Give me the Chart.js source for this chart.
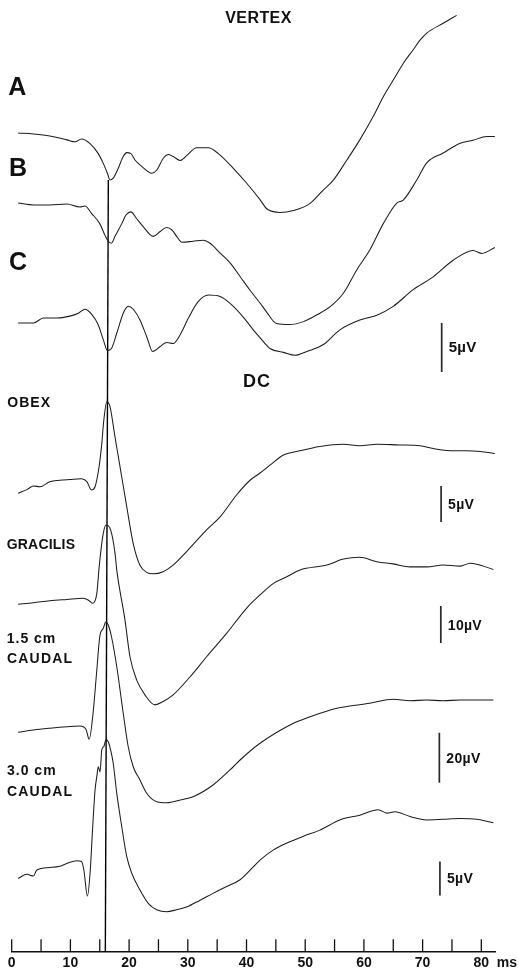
<!DOCTYPE html>
<html>
<head>
<meta charset="utf-8">
<script src="https://cdn.jsdelivr.net/npm/chart.js@4.4.1/dist/chart.umd.min.js"></script>
<style>
  html, body { margin: 0; padding: 0; background: #fff; }
  #wrap { position: relative; width: 519px; height: 975px; }
</style>
</head>
<body>
<div id="wrap"><canvas id="c" width="519" height="975"></canvas></div>
<script>
// Evoked potentials: each trace is [latency ms, amplitude µV] relative to its pre-stimulus level.
const vertexA = [[1.1,0.1],[3.7,0],[6.5,-0.2],[9.4,-0.6],[10.8,-0.8],[11.9,-0.5],[13.3,-0.95],[14.75,-2.0],[15.6,-3.0],[16.3,-4.0],[16.75,-4.7],[17.3,-4.5],[18.15,-3.5],[19.0,-2.3],[19.6,-1.9],[20.3,-2.0],[21.0,-2.65],[22.15,-3.3],[23.85,-4.0],[24.7,-3.7],[25.8,-2.5],[26.7,-2.1],[27.5,-2.3],[28.7,-2.7],[29.8,-2.2],[31.5,-1.4],[33.5,-1.4],[35.2,-2.0],[37.75,-3.5],[40.0,-5.0],[42.3,-6.7],[43.4,-7.6],[45.7,-8.0],[48.0,-7.8],[50.8,-7.1],[53.1,-5.7],[54.8,-4.7],[57.1,-2.65],[59.3,-0.6],[61.6,1.8],[63.3,3.8],[65.0,5.5],[66.7,7.2],[68.4,8.6],[69.6,9.6],[70.7,10.3],[73.5,11.3],[75.8,12.1]];

const vertexB = [[1.1,0.2],[3.7,0],[6.5,0],[9.4,0.1],[11.6,-0.2],[12.5,-0.1],[13.6,-0.85],[15.0,-1.9],[15.9,-3.1],[16.45,-3.7],[17.0,-3.9],[17.6,-3.2],[18.75,-1.9],[19.5,-1.0],[20.3,-0.7],[21.3,-1.4],[22.4,-2.2],[24.1,-3.2],[25.3,-2.7],[26.4,-2.3],[27.3,-2.55],[28.1,-3.2],[29.0,-3.8],[30.9,-3.7],[32.6,-3.6],[33.8,-3.9],[35.5,-4.9],[37.2,-5.9],[38.9,-7.3],[40.6,-8.7],[42.3,-10.0],[43.4,-10.9],[45.1,-12.1],[47.4,-12.2],[49.7,-11.9],[52.0,-11.2],[54.2,-10.4],[56.5,-9.0],[58.8,-6.6],[61.0,-4.6],[63.3,-1.9],[65.6,0.2],[66.7,0.5],[69.0,2.55],[70.7,4.3],[73.5,5.3],[76.4,6.3],[78.6,6.6],[80.9,7.0],[82.3,7.0]];

const vertexC = [[1.1,-0.1],[3.7,-0.1],[5.4,0.4],[7.7,0.4],[9.9,0.6],[11.35,0.9],[12.5,1.3],[13.6,0.8],[14.75,-0.3],[15.6,-1.8],[16.3,-2.9],[17.0,-2.7],[17.9,-1.15],[19.0,0.9],[19.85,1.6],[20.7,1.3],[21.85,0.2],[23.0,-1.5],[24.0,-3.0],[25.3,-2.5],[26.4,-2.1],[27.5,-2.2],[28.7,-1.3],[30.1,0.4],[31.8,2.1],[33.5,2.75],[35.5,2.6],[37.2,1.9],[39.45,0.5],[41.15,-0.8],[42.3,-1.6],[44.0,-2.7],[46.3,-3.1],[48.3,-3.4],[50.3,-3.0],[53.1,-2.3],[55.9,-0.8],[59.3,0.2],[62.2,0.7],[65.0,1.6],[68.4,3.3],[71.8,4.6],[75.2,6.3],[78.6,7.3],[80.1,7.0],[82.3,7.6]];

const obex = [[1.1,-1.0],[2.6,-0.5],[3.7,0],[4.8,-0.1],[6.5,0.6],[8.2,0.8],[9.9,0.9],[11.9,1.0],[12.8,0.6],[13.6,-0.55],[14.2,-0.1],[14.85,2.5],[15.3,5.5],[15.7,9.2],[16.2,11.7],[16.75,11.0],[17.6,6.8],[18.45,2.7],[19.6,-2.9],[20.7,-8.0],[21.85,-11.0],[23.0,-12.0],[24.1,-12.2],[25.8,-11.9],[27.5,-11.0],[29.8,-9.1],[33.2,-6.1],[35.5,-4.3],[38.3,-1.25],[40.6,0.8],[42.3,1.8],[44.0,2.9],[46.3,4.3],[48.55,4.8],[49.7,5.0],[52.5,5.5],[56.5,5.8],[59.3,5.6],[62.2,5.8],[66.1,5.7],[69.55,5.6],[71.8,5.2],[74.7,4.9],[77.5,4.9],[79.8,4.8],[82.3,4.5]];

const gracilis = [[1.1,-0.6],[3.7,-0.2],[6.5,0.35],[9.4,0.7],[12.2,1.0],[13.2,0.35],[13.8,-0.35],[14.5,2.35],[14.9,9.5],[15.5,17.6],[16.05,20.8],[16.85,19.5],[17.6,13.2],[17.9,8.6],[19.3,-4.9],[20.15,-14.8],[21.3,-21.1],[22.7,-25.1],[24.4,-27.8],[25.8,-26.9],[27.5,-25.1],[30.4,-20.2],[33.2,-14.8],[36.6,-8.5],[40.0,-1.7],[42.3,1.9],[44.6,5.05],[46.85,6.8],[49.1,8.65],[53.7,10.0],[56.5,11.6],[59.3,12.1],[62.2,10.9],[65.0,10.3],[67.85,9.5],[70.7,9.5],[73.5,10.0],[76.4,9.7],[78.1,10.5],[82.05,8.8]];

const caudal15 = [[1.1,-0.9],[3.7,0],[6.5,0.7],[9.4,1.3],[11.6,1.6],[12.65,0.3],[13.2,-3.7],[13.8,5.3],[14.5,24.0],[15.0,37.3],[15.6,40.7],[16.05,43.3],[16.45,42.0],[17.0,37.3],[17.9,25.3],[19.0,6.7],[19.85,-6.7],[20.7,-14.7],[21.85,-20.0],[23.0,-25.3],[24.7,-28.7],[26.4,-29.1],[28.7,-28.0],[30.9,-26.7],[34.3,-22.0],[37.75,-14.7],[38.9,-12.0],[42.3,-5.3],[48.0,2.7],[50.8,5.3],[55.4,8.7],[61.0,10.7],[65.0,12.3],[67.85,11.7],[70.7,12.0],[73.5,11.7],[76.4,12.0],[82.05,12.0]];

const caudal30 = [[1.1,-0.5],[2.6,0.1],[3.7,-0.15],[4.25,0.7],[6.5,1.1],[8.2,1.3],[9.4,1.7],[11.1,2.1],[11.9,2.0],[12.3,0.7],[12.9,-3.1],[13.35,0.25],[13.8,7.1],[14.2,12.5],[14.5,14.5],[14.75,15.9],[15.05,15.2],[15.35,18.4],[15.7,18.9],[16.05,19.9],[16.45,19.6],[16.85,18.4],[17.3,16.4],[17.9,12.0],[18.75,7.1],[19.6,2.7],[20.45,0.25],[21.85,-2.2],[23.3,-4.2],[24.7,-5.1],[26.4,-5.4],[28.1,-5.1],[29.8,-4.7],[32.1,-3.7],[34.3,-2.7],[36.6,-1.7],[38.9,-0.7],[41.15,1.2],[42.3,2.2],[44.6,3.7],[46.85,4.7],[49.7,5.7],[52.5,6.6],[55.9,8.1],[59.3,8.8],[62.45,9.6],[63.9,9.1],[65.3,9.3],[67.85,8.6],[70.7,8.1],[73.5,8.2],[76.4,8.3],[79.2,8.2],[82.05,7.7]];

// Calibration bars (µV) and their captions
const calibrationUV = [5, 5, 10, 20, 5];
const calibrationText = ['5µV', '5µV', '10µV', '20µV', '5µV'];

// Time axis: minor marks every 5 ms, numbered every 10 ms
const timeMinorStep = 5;
const timeLabels = [0, 10, 20, 30, 40, 50, 60, 70, 80];

// Peak latency marker (ms) where it leaves trace A and where it meets the time axis
const markerLatency = [16.46, 15.95];
const markerTopUV = -4.7;

// ---- layout: each trace gets its own hidden amplitude axis ----
const FONT = '"Liberation Sans", Arial, Helvetica, sans-serif';
const PLOT_H = 951.8;            // chart-area height; the time axis runs along its bottom
const ROWS = {                   // row: pixel row of the 0 µV level, gain: px per µV
  A:    { row: 134, gain: 9.8 },
  B:    { row: 205, gain: 9.8 },
  C:    { row: 322, gain: 9.8 },
  OBEX: { row: 486, gain: 7.2 },
  GRAC: { row: 602, gain: 3.7 },
  C15:  { row: 730, gain: 2.5 },
  C30:  { row: 875, gain: 6.8 }
};
function amplitudeAxis(key) {
  const { row, gain } = ROWS[key];
  return { type: 'linear', display: false, min: (row - PLOT_H) / gain, max: row / gain };
}

const traces = [
  { key: 'A', data: vertexA },
  { key: 'B', data: vertexB },
  { key: 'C', data: vertexC },
  { key: 'OBEX', data: obex },
  { key: 'GRAC', data: gracilis },
  { key: 'C15', data: caudal15 },
  { key: 'C30', data: caudal30 }
];

// calibration bar placement: which row, latency column, lower end (µV on that row)
const calibrationPlacement = [
  { axis: 'C',    at: 73.25, from: -5.1 },
  { axis: 'OBEX', at: 73.15, from: -5.0 },
  { axis: 'GRAC', at: 73.1,  from: -11.1 },
  { axis: 'C15',  at: 72.85, from: -21.1 },
  { axis: 'C30',  at: 72.95, from: -3.0 }
];

const scales = {
  x: {
    type: 'linear', position: 'bottom', min: 0, max: 82.45,
    border: { display: true, color: '#111', width: 1.4 },
    grid: { display: true, drawOnChartArea: false, drawTicks: false },
    ticks: {
      stepSize: timeMinorStep, autoSkip: false, maxRotation: 0, includeBounds: false,
      padding: 4.6, color: '#111',
      font: { family: FONT, size: 14, weight: 'bold', lineHeight: 1 },
      callback: v => (timeLabels.includes(v) ? String(v) : '')
    }
  }
};
Object.keys(ROWS).forEach(k => { scales['y' + k] = amplitudeAxis(k); });

const datasets = [];
traces.forEach(t => {
  datasets.push({
    label: t.key,
    data: t.data.map(p => ({ x: p[0], y: p[1] })),
    yAxisID: 'y' + t.key,
    borderColor: '#1c1c1c', borderWidth: 1.05,
    pointRadius: 0, fill: false,
    cubicInterpolationMode: 'monotone'
  });
});
calibrationPlacement.forEach((c, i) => {
  datasets.push({
    label: 'cal' + i,
    calIndex: i,
    data: [{ x: c.at, y: c.from }, { x: c.at, y: c.from + calibrationUV[i] }],
    yAxisID: 'y' + c.axis,
    borderColor: '#2a2a2a', borderWidth: 1.7, pointRadius: 0, fill: false
  });
});
datasets.push({
  label: 'marker',
  data: [{ x: markerLatency[0], y: markerTopUV }, { x: markerLatency[1], y: amplitudeAxis('A').min }],
  yAxisID: 'yA',
  borderColor: '#000', borderWidth: 1.4, pointRadius: 0, fill: false
});

// static captions (text, left/centre x, baseline y)
const captions = [
  { text: 'VERTEX', x: 258.5, y: 22.7, size: 16, align: 'center', spacing: 0.4 },
  { text: 'A', x: 8.3, y: 95, size: 25 },
  { text: 'B', x: 9, y: 176, size: 25 },
  { text: 'C', x: 9, y: 270, size: 25 },
  { text: 'DC', x: 243, y: 387, size: 18, spacing: 1 },
  { text: 'OBEX', x: 7.3, y: 407.3, size: 14, spacing: 1 },
  { text: 'GRACILIS', x: 6.7, y: 549.3, size: 14, spacing: 0.2 },
  { text: '1.5 cm', x: 6.7, y: 642.7, size: 14, spacing: 1 },
  { text: 'CAUDAL', x: 7, y: 662.7, size: 14, spacing: 1.2 },
  { text: '3.0 cm', x: 7, y: 775, size: 14, spacing: 1 },
  { text: 'CAUDAL', x: 7, y: 796, size: 14, spacing: 1.2 }
];

const annotate = {
  id: 'annotate',
  afterDraw(chart) {
    const ctx = chart.ctx;
    const xs = chart.scales.x;
    const bottom = chart.chartArea.bottom;
    ctx.save();
    // upright time marks on the axis
    ctx.strokeStyle = '#111';
    ctx.lineWidth = 1.3;
    xs.ticks.forEach(t => {
      const px = xs.getPixelForValue(t.value);
      ctx.beginPath();
      ctx.moveTo(px, bottom);
      ctx.lineTo(px, bottom - 12.5);
      ctx.stroke();
    });
    ctx.fillStyle = '#111';
    // unit after the last number
    ctx.font = 'bold 14px ' + FONT;
    ctx.textAlign = 'left';
    ctx.textBaseline = 'middle';
    const lastPx = xs.getPixelForValue(timeLabels[timeLabels.length - 1]);
    ctx.fillText('ms', lastPx + 15.5, bottom + 4.6 + 7);
    // captions
    ctx.textBaseline = 'alphabetic';
    captions.forEach(c => {
      ctx.font = 'bold ' + c.size + 'px ' + FONT;
      ctx.letterSpacing = (c.spacing || 0) + 'px';
      ctx.textAlign = c.align || 'left';
      ctx.fillText(c.text, c.x, c.y);
    });
    // calibration captions next to their bars
    ctx.textAlign = 'left';
    ctx.letterSpacing = '0.3px';
    chart.data.datasets.forEach((ds, di) => {
      if (ds.calIndex === undefined) return;
      const pts = chart.getDatasetMeta(di).data;
      const mid = (pts[0].y + pts[1].y) / 2;
      ctx.font = 'bold ' + (ds.calIndex === 0 ? 15 : 14) + 'px ' + FONT;
      ctx.fillText(calibrationText[ds.calIndex], pts[0].x + 7, mid + 5);
    });
    ctx.restore();
  }
};

new Chart(document.getElementById('c'), {
  type: 'line',
  data: { datasets },
  options: {
    responsive: false,
    devicePixelRatio: 1,
    animation: false,
    parsing: true,
    layout: { padding: { left: 11.7, right: 23.3, top: 0, bottom: 0 } },
    plugins: { legend: { display: false }, tooltip: { enabled: false } },
    scales
  },
  plugins: [annotate]
});
</script>
</body>
</html>
